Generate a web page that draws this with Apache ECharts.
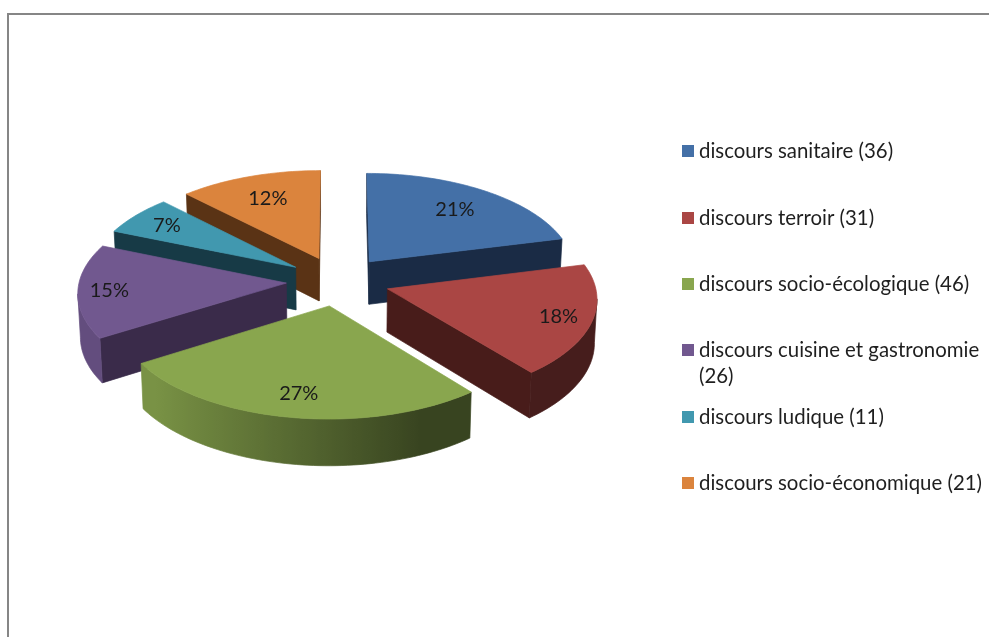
<!DOCTYPE html>
<html>
<head>
<meta charset="utf-8">
<style>html,body{margin:0;padding:0;background:#fff}#c{width:989px;height:637px}</style>
<script src="https://cdn.jsdelivr.net/npm/echarts@6/dist/echarts.min.js"></script>
</head>
<body>
<div id="c"></div>
<script>
// Data
const names = ['discours sanitaire (36)','discours terroir (31)','discours socio-écologique (46)','discours cuisine et gastronomie (26)','discours ludique (11)','discours socio-économique (21)'];
const values = [36,31,46,26,11,21];
const percentLabels = ['21%','18%','27%','15%','7%','12%'];
// Styles
const topColors = ['#4470A7','#AA4644','#89A64E','#71588F','#4198AF','#DB843D'];
const cutColors = ['#1A2B45','#481C1A','#38421C','#3A2B4A','#173A46','#5A3315'];
// Layout
const paintOrder = [2,5,6,4,3,1];
const labelRadius = [0.73,0.84,0.80,0.85,0.80,0.72];
const legendTops = [138,205,271,311,404,470];
const FONT = 'Lato';
const CX = 338, CY = 281, RX = 207, RY = 99, DEPTH = 43, PERSP = 0.085, EXPLODE = 0.25, BOTTOM_SCALE = 0.99;

const total = values.reduce((a,b)=>a+b,0);
const starts = [];
values.reduce((acc,v,i)=>{ starts[i]=acc; return acc+v/total*Math.PI*2; },0);

function project(a,b,bottom){
  const s = 1/(1-PERSP*b);
  if(!bottom) return [CX+RX*a*s, CY+RY*b*s];
  return [CX+RX*a*s*BOTTOM_SCALE, CY+RY*b*s*BOTTOM_SCALE+DEPTH*s];
}
function hexMul(hex,f){
  const n=parseInt(hex.slice(1),16);
  const c=[(n>>16)&255,(n>>8)&255,n&255].map(v=>Math.round(v*f));
  return 'rgb('+c.join(',')+')';
}
function wallShade(nx){
  return Math.min(0.88,Math.max(0.41,0.57-0.4*nx));
}
function poly(points,fill,stroke,z2){
  return {type:'polygon',shape:{points:points},style:{fill:fill,stroke:stroke,lineWidth:0.7},silent:true,z2:z2};
}
function renderSlice(i){
  return function(){
    const a0=starts[i], sweep=values[i]/total*Math.PI*2, mid=a0+sweep/2;
    const ox=EXPLODE*Math.sin(mid), oy=-EXPLODE*Math.cos(mid);
    const steps=Math.max(12,Math.round(sweep*40));
    const pt=(r,t)=>[ox+r*Math.sin(t), oy-r*Math.cos(t)];
    const plane=[[ox,oy]];
    for(let k=0;k<=steps;k++) plane.push(pt(1,a0+sweep*k/steps));
    const tops=plane.map(p=>project(p[0],p[1],false));
    const bots=plane.map(p=>project(p[0],p[1],true));
    const children=[];
    const n=plane.length;
    // flat cut faces
    [[0,1],[n-1,0]].forEach(function(e){
      const p=e[0],q=e[1];
      if(tops[q][0]<tops[p][0]) children.push(poly([tops[p],tops[q],bots[q],bots[p]],cutColors[i],cutColors[i],1));
    });
    // curved outer wall: the run of arc points that face the viewer
    const run=[];
    for(let k=1;k<n-1;k++){
      if(tops[k+1][0]<tops[k][0]){ if(!run.length) run.push(k); run.push(k+1); }
    }
    if(run.length){
      const xs=run.map(k=>tops[k][0]);
      const xMax=Math.max.apply(null,xs), xMin=Math.min.apply(null,xs), span=Math.max(1,xMax-xMin);
      const stops=run.map(k=>({offset:(tops[k][0]-xMin)/span,color:hexMul(topColors[i],wallShade(Math.sin(a0+sweep*(k-1)/steps)))})).sort((a,b)=>a.offset-b.offset);
      const grad=new echarts.graphic.LinearGradient(xMin,0,xMax,0,stops,true);
      const outline=run.map(k=>tops[k]).concat(run.slice().reverse().map(k=>bots[k]));
      children.push(poly(outline,grad,grad,1));
    }
    children.push(poly(tops,topColors[i],topColors[i],2));
    const l=pt(labelRadius[i],mid);
    const lp=project(l[0],l[1],false);
    children.push({type:'text',z2:3,silent:true,style:{x:lp[0],y:lp[1],text:percentLabels[i],fill:'#1a1a1a',font:'20px '+FONT,textAlign:'center',textVerticalAlign:'middle'}});
    return {type:'group',children:children};
  };
}

const chart=echarts.init(document.getElementById('c'),null,{renderer:'canvas'});
chart.setOption({
  animation:false,
  backgroundColor:'#ffffff',
  graphic:[{type:'polyline',silent:true,shape:{points:[[8,637],[8,14],[989,14]]},style:{stroke:'#868686',lineWidth:2,fill:null}}],
  legend:names.map((nm,i)=>({
    data:[nm],left:682,top:legendTops[i],padding:0,
    orient:'vertical',icon:'rect',itemWidth:12,itemHeight:12,selectedMode:false,
    formatter:function(t){ return t==='discours cuisine et gastronomie (26)' ? '\ndiscours cuisine et gastronomie\n(26)' : t; },
    textStyle:{fontFamily:FONT,fontSize:20.4,color:'#1f1f1f',lineHeight:26}
  })),
  series:names.map((nm,i)=>({
    type:'custom',name:nm,coordinateSystem:'none',z:paintOrder[i],
    itemStyle:{color:topColors[i]},
    data:[values[i]],
    renderItem:renderSlice(i),
    silent:true,clip:false
  }))
});
</script>
</body>
</html>
